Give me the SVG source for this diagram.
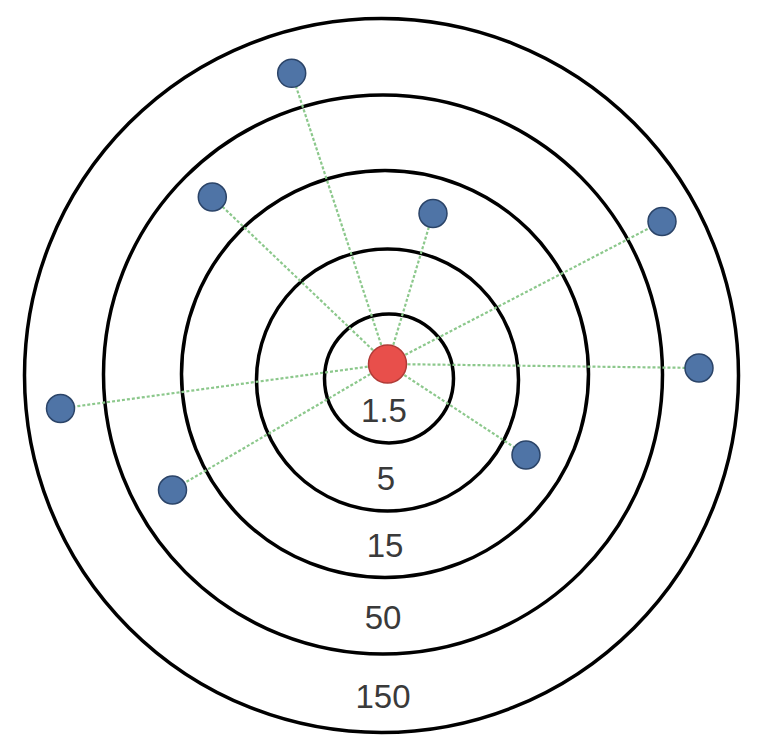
<svg xmlns="http://www.w3.org/2000/svg" width="768" height="750" viewBox="0 0 768 750">
<style>
.ring{fill:none;stroke:#000;stroke-width:3.5}
.link{stroke:#8cc88c;stroke-width:2.2;stroke-dasharray:3 2;fill:none}
.dot{fill:#4f74a6;stroke:#2b4468;stroke-width:1.5}
.hub{fill:#e84f4b;stroke:#b03a36;stroke-width:1.5}
.lbl{font-family:"Liberation Sans",Arial,sans-serif;font-size:33px;fill:#3a3a3a;text-anchor:middle}
</style>
<rect width="768" height="750" fill="#fff"/>
<g id="rings">
<circle class="ring" cx="381.5" cy="375.5" r="357"/>
<circle class="ring" cx="383" cy="374.5" r="279.5"/>
<circle class="ring" cx="385" cy="374" r="203.5"/>
<circle class="ring" cx="387.5" cy="380" r="131"/>
<circle class="ring" cx="389" cy="378.5" r="64.5"/>
</g>
<g id="labels">
<text class="lbl" x="384" y="422">1.5</text>
<text class="lbl" x="386" y="490">5</text>
<text class="lbl" x="385" y="557">15</text>
<text class="lbl" x="383" y="629">50</text>
<text class="lbl" x="383" y="708">150</text>
</g>
<g id="connectors">
<line class="link" x1="387.5" y1="364" x2="291.7" y2="73.3"/>
<line class="link" x1="387.5" y1="364" x2="212.3" y2="197"/>
<line class="link" x1="387.5" y1="364" x2="433" y2="213.5"/>
<line class="link" x1="387.5" y1="364" x2="662" y2="221.5"/>
<line class="link" x1="387.5" y1="364" x2="699" y2="368"/>
<line class="link" x1="387.5" y1="364" x2="60.5" y2="408.5"/>
<line class="link" x1="387.5" y1="364" x2="172.5" y2="490"/>
<line class="link" x1="387.5" y1="364" x2="526" y2="455"/>
</g>
<g id="hub"><circle class="hub" cx="387.5" cy="364" r="19"/></g>
<g id="n1"><circle class="dot" cx="291.7" cy="73.3" r="14"/></g>
<g id="n2"><circle class="dot" cx="212.3" cy="197" r="14"/></g>
<g id="n3"><circle class="dot" cx="433" cy="213.5" r="14"/></g>
<g id="n4"><circle class="dot" cx="662" cy="221.5" r="14"/></g>
<g id="n5"><circle class="dot" cx="699" cy="368" r="14"/></g>
<g id="n6"><circle class="dot" cx="60.5" cy="408.5" r="14"/></g>
<g id="n7"><circle class="dot" cx="172.5" cy="490" r="14"/></g>
<g id="n8"><circle class="dot" cx="526" cy="455" r="14"/></g>
</svg>
